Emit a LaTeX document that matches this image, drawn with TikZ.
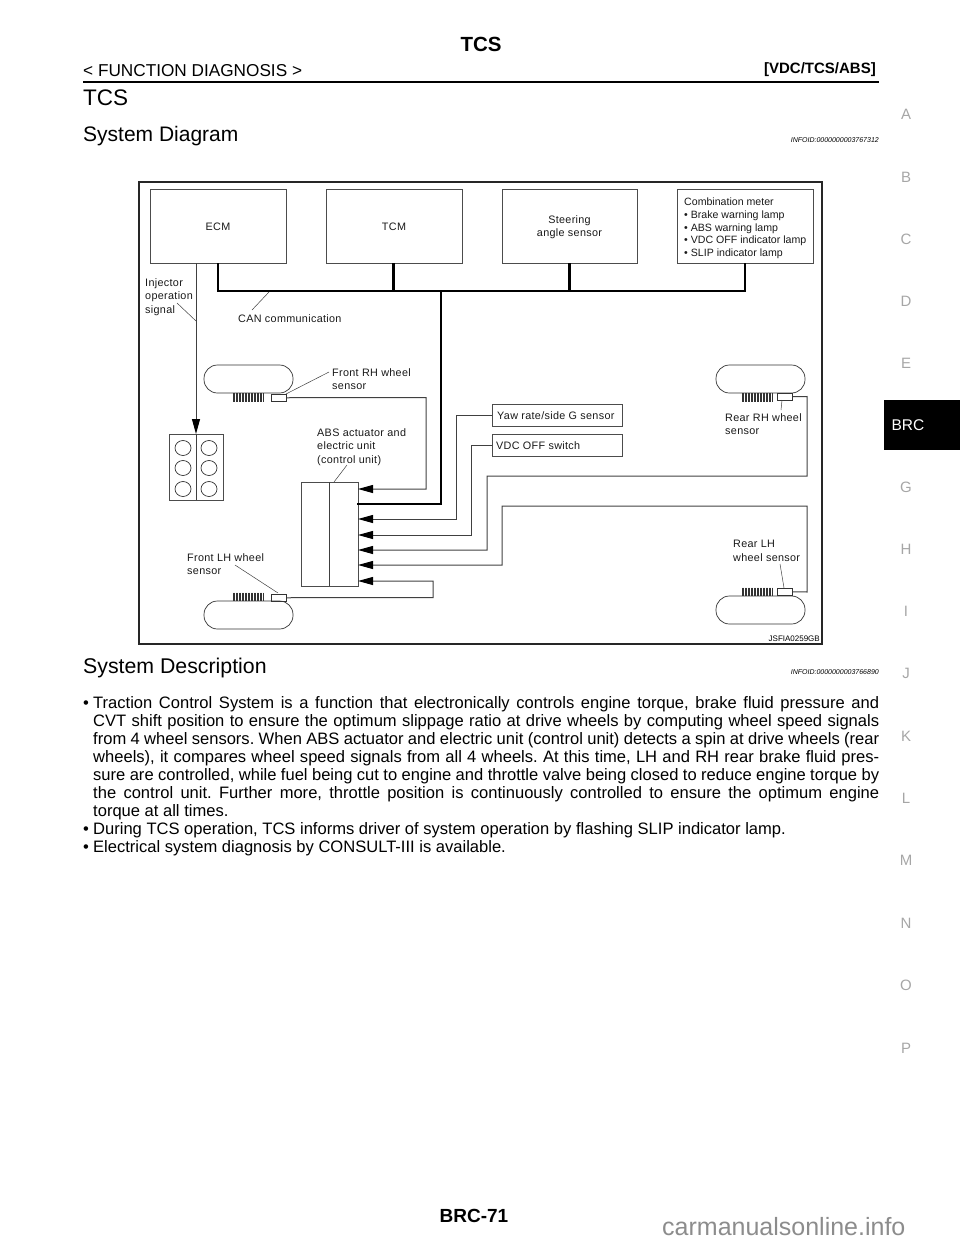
\documentclass[tikz,border=0pt]{standalone}
\usepackage{fontspec}
\setmainfont{Liberation Sans}
\newfontfamily\diagfont[LetterSpace=3]{Liberation Sans}
\usetikzlibrary{arrows.meta}
\tikzset{
	box/.style={draw=black!70,line width=0.9pt,inner sep=0pt,outer sep=0pt,anchor=north west},
	wheelbox/.style={draw=black!80,line width=0.7pt,inner sep=0pt,outer sep=0pt,anchor=north west,minimum width=89pt,minimum height=28pt,rounded corners=13.5pt},
	sensorbox/.style={draw=black!80,line width=0.7pt,inner sep=0pt,outer sep=0pt,anchor=north west,minimum width=15.5pt,minimum height=7.5pt},
	label/.style={inner sep=0pt,anchor=north west,align=left,font=\diagfont\fontsize{10.8}{13.5}\selectfont,text=black!90},
	wire/.style={draw=black!75,line width=1pt},
	bus/.style={draw=black,line width=2.8pt},
	leader/.style={draw=black!75,line width=0.5pt},
	tab/.style={inner sep=0pt,font=\fontsize{15}{15}\selectfont,text=black!35},
	para/.style={inner sep=0pt,anchor=north west,text width=796pt,align=justify,font=\fontsize{16.55}{18}\selectfont}
}
\newcommand{\teeth}[2]{\foreach \k in {0,1.5,...,30}{\draw[black!80,line width=0.8pt] (#1+\k,#2)--(#1+\k,#2+8.5);}}
\begin{document}
\begin{tikzpicture}[x=1pt,y=-1pt,>={Stealth[length=15pt,width=8pt,inset=0pt,black]}]
	\useasboundingbox (0,0) rectangle (960,1242);
	% page head
	\node[inner sep=0pt,font=\bfseries\fontsize{20.5}{20}\selectfont] (head) at (481,44) {TCS};
	\node[inner sep=0pt,anchor=base west,font=\fontsize{17.2}{17}\selectfont] (func) at (83,76) {< FUNCTION DIAGNOSIS >};
	\node[inner sep=0pt,anchor=base east,font=\bfseries\fontsize{15}{15}\selectfont] (group) at (876,73) {[VDC/TCS/ABS]};
	\draw[line width=2.4pt] (83,82)--(879,82);
	\node[inner sep=0pt,anchor=base west,font=\fontsize{22.5}{22}\selectfont] (title) at (83,105) {TCS};
	\node[inner sep=0pt,anchor=base west,font=\fontsize{21}{22}\selectfont] (diagram) at (83,141) {System Diagram};
	\node[inner sep=0pt,anchor=base east,font=\itshape\fontsize{7}{7}\selectfont] (idone) at (879,142) {INFOID:0000000003767312};
	% letters
	\foreach \c/\y in {A/114,B/177,C/239,D/301,E/363,G/487,H/549,I/611,J/673,K/736,L/798,M/860,N/923,O/985,P/1048}
		\node[tab] (tab\c) at (906,\y) {\c};
	\fill[black] (884,400) rectangle (960,450);
	\node[tab,text=white,font=\fontsize{15.5}{15}\selectfont] (tabBRC) at (908,425) {BRC};
	% frame
	\draw[black!85,line width=1.3pt] (139,182) rectangle (822,644);
	% units
	\node[box,minimum width=136pt,minimum height=74pt] (ecm) at (150,189) {};
	\node[box,minimum width=136pt,minimum height=74pt] (tcm) at (326,189) {};
	\node[box,minimum width=135pt,minimum height=74pt] (steer) at (502,189) {};
	\node[box,minimum width=136pt,minimum height=74pt] (meter) at (677,189) {};
	\node[label,anchor=center,align=center] (ecmtext) at (218,227) {ECM};
	\node[label,anchor=center,align=center] (tcmtext) at (394,227) {TCM};
	\node[label,anchor=center,align=center] (steertext) at (569.5,227) {Steering\\angle sensor};
	\node[label,font=\fontsize{10.6}{12.7}\selectfont] (metertext) at (684,198) {Combination meter\\• Brake warning lamp\\• ABS warning lamp\\• VDC OFF indicator lamp\\• SLIP indicator lamp};
	\node[box,minimum width=130pt,minimum height=22pt] (yaw) at (492,404) {};
	\node[label] (yawtext) at (497,411) {Yaw rate/side G sensor};
	\node[box,minimum width=130pt,minimum height=22pt] (vdc) at (492,434) {};
	\node[label] (vdctext) at (496,441) {VDC OFF switch};
	% ABS unit
	\node[box,minimum width=57pt,minimum height=104pt] (abs) at (301,482) {};
	\draw[wire] (329,482)--(329,586);
	% engine
	\node[box,minimum width=54pt,minimum height=66pt] (engine) at (169,434) {};
	\foreach \x in {183,209}
		\foreach \y in {448,468,489}
			\draw[black!80,line width=0.7pt] (\x,\y) ellipse (8 and 7.5);
	% wheels
	\node[wheelbox] (wheelfr) at (204,365) {};
	\node[wheelbox] (wheelrr) at (716,365) {};
	\node[wheelbox] (wheelfl) at (204,601) {};
	\node[wheelbox] (wheelrl) at (716,596) {};
	\teeth{233}{393}
	\teeth{742}{393}
	\teeth{233}{592.5}
	\teeth{742}{587.5}
	\node[sensorbox] (sensfr) at (271,394) {};
	\node[sensorbox] (sensrr) at (777,393) {};
	\node[sensorbox] (sensfl) at (271,594) {};
	\node[sensorbox] (sensrl) at (777,588) {};
	% CAN line
	\coordinate (canl) at (218,291);
	\coordinate (canr) at (745,291);
	\draw[bus] (ecm.south-|canl)--(canl)--(canr)--(meter.south-|canr);
	\draw[bus] (tcm.south-|393.5,0)--(393.5,291);
	\draw[bus] (steer.south-|569.5,0)--(569.5,291);
	\coordinate (absbus) at (357,504);
	\draw[bus] (441,291)--(441,504)--(absbus);
	% wires to the ABS unit
	\draw[wire,->] (ecm.south-|196,0)--(engine.north-|196,0);
	\draw[wire] (engine.north-|196,0)--(engine.south-|196,0);
	\coordinate (pa) at (358,489);
	\coordinate (pb) at (358,519);
	\coordinate (pc) at (358,535);
	\coordinate (pd) at (358,550);
	\coordinate (pe) at (358,565);
	\coordinate (pf) at (358,581);
	\draw[wire,<-] (pa)--(426,489)--(426,397.5)--(sensfr.east);
	\draw[wire,<-] (pb)--(456,519)--(456,415)--(yaw.west);
	\draw[wire,<-] (pc)--(471,535)--(471,445)--(vdc.west);
	\draw[wire,<-] (pd)--(487,550)--(487,476)--(807,476)--(807,396.5)--(sensrr.east);
	\draw[wire,<-] (pe)--(502,565)--(502,506)--(807,506)--(807,592)--(sensrl.east);
	\draw[wire,<-] (pf)--(433,581)--(433,597.5)--(sensfl.east);
	% labels
	\node[label] (inj) at (145,278) {Injector\\operation\\signal};
	\node[label] (can) at (238,314.5) {CAN communication};
	\node[label] (frlab) at (332,368) {Front RH wheel\\sensor};
	\node[label] (abslab) at (317,428) {ABS actuator and\\electric unit\\(control unit)};
	\node[label] (fllab) at (187,553) {Front LH wheel\\sensor};
	\node[label] (rrlab) at (725,413) {Rear RH wheel\\sensor};
	\node[label] (rllab) at (733,540) {Rear LH\\wheel sensor};
	\draw[leader] (177,303)--(196,321);
	\draw[leader] (269,292)--(252,310);
	\draw[leader] (286,394)--(329,372);
	\draw[leader] (334,482)--(347,465);
	\draw[leader] (235,565)--(278,593);
	\draw[leader] (782,400)--(781,410);
	\draw[leader] (780,564)--(784,588);
	\node[inner sep=0pt,anchor=base east,font=\fontsize{8}{8}\selectfont] (code) at (820,641) {JSFIA0259GB};
	% description
	\node[inner sep=0pt,anchor=base west,font=\fontsize{21.3}{22}\selectfont] (descr) at (83,673) {System Description};
	\node[inner sep=0pt,anchor=base east,font=\itshape\fontsize{7}{7}\selectfont] (idtwo) at (879,674) {INFOID:0000000003766890};
	\node[para] (body) at (83,696) {\frenchspacing
		\noindent\hangindent=10pt\hangafter=1\makebox[10pt][l]{•}Traction Control System is a function that electronically controls engine torque, brake fluid pressure and\linebreak
		CVT shift position to ensure the optimum slippage ratio at drive wheels by computing wheel speed signals\linebreak
		from 4 wheel sensors. When ABS actuator and electric unit (control unit) detects a spin at drive wheels (rear\linebreak
		wheels), it compares wheel speed signals from all 4 wheels. At this time, LH and RH rear brake fluid pres-\linebreak
		sure are controlled, while fuel being cut to engine and throttle valve being closed to reduce engine torque by\linebreak
		the control unit. Further more, throttle position is continuously controlled to ensure the optimum engine\linebreak
		torque at all times.\par
		\noindent\makebox[10pt][l]{•}During TCS operation, TCS informs driver of system operation by flashing SLIP indicator lamp.\par
		\noindent\makebox[10pt][l]{•}Electrical system diagnosis by CONSULT-III is available.\par};
	% foot
	\node[inner sep=0pt,font=\bfseries\fontsize{19}{19}\selectfont] (page) at (474,1216) {BRC-71};
	\node[inner sep=0pt,text=black!45,anchor=base west,font=\fontsize{25}{25}\selectfont] (mark) at (662,1235) {carmanualsonline.info};
\end{tikzpicture}
\end{document}
